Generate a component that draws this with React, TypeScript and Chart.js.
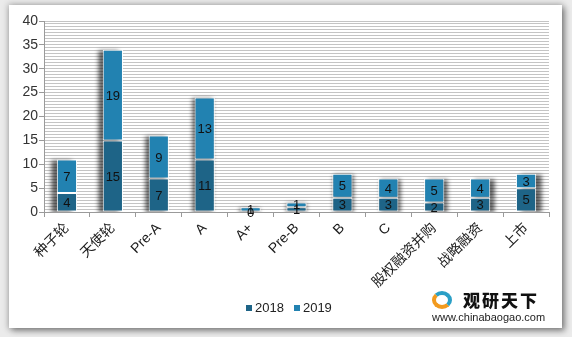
import React, { useEffect, useRef } from "react";
import { Chart, registerables } from "chart.js";

Chart.register(...registerables);

const categories = ["种子轮", "天使轮", "Pre-A", "A", "A+", "Pre-B", "B", "C", "股权融资并购", "战略融资", "上市"];
const values2018 = [4, 15, 7, 11, 0, 1, 3, 3, 2, 3, 5];
const values2019 = [7, 19, 9, 13, 1, 1, 5, 4, 5, 4, 3];
const seriesNames = ["2018", "2019"];
const yMax = 40;
const yLabelStep = 5;
const yMinorStep = 0.625;

const color2018 = "#1e6487";
const color2019 = "#2282b1";
const FONT = "'Liberation Sans', 'Noto Sans CJK SC', sans-serif";

const shadowPlugin = {
  id: "barShadow",
  beforeDatasetsDraw(chart: any) {
    const ctx = chart.ctx;
    const area = chart.chartArea;
    const cx = (area.left + area.right) / 2;
    ctx.save();
    ctx.beginPath();
    ctx.rect(area.left, area.top - 10, area.right - area.left, area.bottom - area.top + 10);
    ctx.clip();
    ctx.filter = "blur(2px)";
    ctx.fillStyle = "rgba(0,0,0,0.6)";
    chart.data.datasets.forEach((_ds: any, i: number) => {
      const meta = chart.getDatasetMeta(i);
      meta.data.forEach((el: any) => {
        const p = el.getProps(["x", "y", "base", "width"], true);
        const h = Math.abs(p.base - p.y);
        if (h <= 0) return;
        const dx = (p.x - cx) * 0.024;
        ctx.fillRect(p.x - p.width / 2 + dx, Math.min(p.y, p.base) + 1, p.width, h);
      });
    });
    ctx.restore();
  },
};

const labelPlugin = {
  id: "segLabels",
  afterDatasetsDraw(chart: any) {
    const ctx = chart.ctx;
    ctx.save();
    ctx.font = `13px ${FONT}`;
    ctx.fillStyle = "#111";
    ctx.textAlign = "center";
    ctx.textBaseline = "middle";
    chart.data.datasets.forEach((ds: any, i: number) => {
      const meta = chart.getDatasetMeta(i);
      meta.data.forEach((el: any, j: number) => {
        const p = el.getProps(["x", "y", "base"], true);
        ctx.fillText(String(ds.data[j]), p.x, (p.y + p.base) / 2 + 1);
      });
    });
    ctx.restore();
  },
};

function ChartCanvas() {
  const ref = useRef<HTMLCanvasElement | null>(null);
  useEffect(() => {
    if (!ref.current) return;
    const chart = new Chart(ref.current, {
      type: "bar",
      data: {
        labels: categories,
        datasets: [
          {
            label: seriesNames[0],
            data: values2018,
            backgroundColor: color2018,
            borderColor: "#ffffff",
            borderWidth: 1,
            borderSkipped: false,
          },
          {
            label: seriesNames[1],
            data: values2019,
            backgroundColor: color2019,
            borderColor: "#ffffff",
            borderWidth: 1,
            borderSkipped: false,
          },
        ],
      },
      options: {
        responsive: false,
        animation: false,
        devicePixelRatio: 1,
        layout: { padding: { top: 21, right: 23, left: 0, bottom: 0 } },
        plugins: { legend: { display: false }, tooltip: { enabled: false } },
        datasets: { bar: { barPercentage: 1, categoryPercentage: 0.44 } },
        scales: {
          x: {
            stacked: true,
            offset: true,
            grid: {
              display: true,
              offset: true,
              drawOnChartArea: false,
              drawTicks: true,
              tickLength: 5,
              color: "#9a9a9a",
            },
            border: { color: "#9a9a9a" },
            ticks: {
              autoSkip: false,
              minRotation: 45,
              maxRotation: 45,
              color: "#1a1a1a",
              padding: 3,
              font: { family: FONT, size: 14 },
            },
            afterFit: (s: any) => {
              s.height = 125;
            },
          },
          y: {
            stacked: true,
            min: 0,
            max: yMax,
            grid: {
              color: "#c4c4c4",
              lineWidth: 1,
              tickLength: 5,
              tickColor: (c: any) => {
                const v = c.tick ? c.tick.value : 0;
                return Math.abs(v / yLabelStep - Math.round(v / yLabelStep)) < 1e-6 ? "#9a9a9a" : "rgba(0,0,0,0)";
              },
            },
            border: { color: "#9a9a9a" },
            ticks: {
              stepSize: yMinorStep,
              autoSkip: false,
              color: "#333",
              padding: 1,
              font: { family: FONT, size: 14 },
              callback: (v: any) => {
                const n = Number(v);
                return Math.abs(n / yLabelStep - Math.round(n / yLabelStep)) < 1e-6 ? String(Math.round(n)) : "";
              },
            },
            afterFit: (s: any) => {
              s.width = 44;
            },
          },
        },
      },
      plugins: [shadowPlugin, labelPlugin],
    } as any);
    return () => chart.destroy();
  }, []);
  return <canvas ref={ref} width={572} height={337} style={{ position: "absolute", left: 0, top: 0 }} />;
}

function LegendItem({ color, text }: { color: string; text: string }) {
  return (
    <span style={{ display: "inline-flex", alignItems: "center", marginRight: 10 }}>
      <span style={{ width: 6, height: 6, background: color, display: "inline-block", marginRight: 3 }} />
      <span>{text}</span>
    </span>
  );
}

export default function App() {
  return (
    <div
      style={{
        position: "fixed",
        left: 0,
        top: 0,
        width: 572,
        height: 337,
        background: "#ebebeb",
        overflow: "hidden",
      }}
    >
      <div
        style={{
          position: "absolute",
          left: 9,
          top: 5,
          width: 553,
          height: 323,
          background: "#fff",
          boxShadow: "0 0 6px 1px rgba(0,0,0,0.25), 3px 3px 6px rgba(0,0,0,0.35)",
        }}
      />
      <ChartCanvas />
      <div
        style={{
          position: "absolute",
          left: 246,
          top: 300,
          fontFamily: FONT,
          fontSize: 13,
          color: "#222",
          display: "flex",
          whiteSpace: "nowrap",
        }}
      >
        <LegendItem color={color2018} text={seriesNames[0]} />
        <LegendItem color={color2019} text={seriesNames[1]} />
      </div>
      <div style={{ position: "absolute", left: 432, top: 290, width: 118, height: 36, fontFamily: FONT }}>
        <div
          style={{
            position: "absolute",
            left: 0,
            top: 1,
            width: 20,
            height: 18,
            borderRadius: "50%",
            borderTop: "4px solid #2a9fc6",
            borderLeft: "4px solid #f29a1e",
            borderBottom: "4px solid #f29a1e",
            borderRight: "4px solid #2a9fc6",
            boxSizing: "border-box",
          }}
        />
        <div
          style={{
            position: "absolute",
            left: 31,
            top: 0,
            fontFamily: "'Noto Sans CJK SC', sans-serif",
            fontWeight: 900,
            fontSize: 17,
            letterSpacing: 2,
            lineHeight: "20px",
            color: "#111",
            whiteSpace: "nowrap",
          }}
        >
          观研天下
        </div>
        <div
          style={{
            position: "absolute",
            left: 0,
            top: 21,
            fontSize: 11,
            color: "#222",
            whiteSpace: "nowrap",
            lineHeight: "13px",
          }}
        >
          www.chinabaogao.com
        </div>
      </div>
    </div>
  );
}
